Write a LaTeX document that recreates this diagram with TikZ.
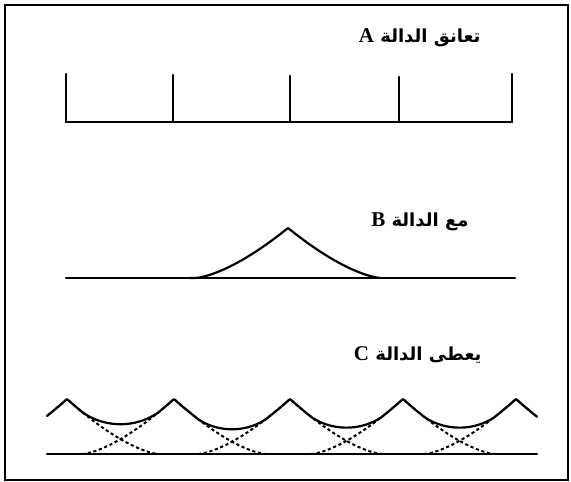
\documentclass[tikz,border=0pt]{standalone}
\usepackage{fontspec}
\usepackage{tikz}
\TeXXeTstate=1
\newfontfamily\arabicfont[Script=Arabic]{DejaVu Sans}
\newfontfamily\latinfont{Liberation Serif}
\newcommand{\fnlabel}[2]{{\arabicfont\bfseries\beginR #1 {\latinfont\bfseries\fontsize{21}{23}\selectfont #2}\endR}}

\begin{document}
\begin{tikzpicture}[x=1pt,y=-1pt,
  declare function={bs(\t,\w)=max(0,1-abs(\t)/\w);
                    bell(\t,\w,\h)=\h*bs(\t,\w)*sqrt(bs(\t,\w));},
  curve/.style={line width=2.2pt,line join=round,line cap=round},
  dotted curve/.style={line width=2pt,dash pattern=on 3.2pt off 2.6pt},
  label/.style={anchor=east,font=\fontsize{18}{21}\selectfont}]
\useasboundingbox (0,0) rectangle (571,482);
\draw[line width=2.2pt] (5,5) rectangle (568,480);
% function A
\coordinate (0) at (66,122);
\coordinate (1) at (173,122);
\coordinate (2) at (290,122);
\coordinate (3) at (399,122);
\coordinate (4) at (512,122);
\node[label] (5) at (484,38) {\fnlabel{تعانق الدالة}{A}};
\draw[curve] (0) -- (4);
\draw[curve] (0) -- ++(0,-48);
\draw[curve] (1) -- ++(0,-47);
\draw[curve] (2) -- ++(0,-46);
\draw[curve] (3) -- ++(0,-45);
\draw[curve] (4) -- ++(0,-48);
% function B
\coordinate (6) at (66,278);
\coordinate (7) at (515,278);
\node[label] (8) at (472,222) {\fnlabel{مع الدالة}{B}};
\draw[curve] (6) -- (7);
\draw[curve] plot[domain=190:380,samples=121] (\x,{278-bell(\x-288,93,50)});
% function C
\coordinate (9) at (47,454);
\coordinate (10) at (537,454);
\node[label] (11) at (485,355) {\fnlabel{يعطى الدالة}{C}};
\draw[curve] (9) -- (10);
\foreach \c in {67,174,290,403,516}
  \draw[dotted curve] plot[domain={max(47,\c-92)}:{min(537,\c+92)},samples=61]
    (\x,{454-bell(\x-\c,92,55)});
\draw[curve] plot[domain=47:537,samples=400]
  (\x,{454-bell(\x-67,92,55)-bell(\x-174,92,55)-bell(\x-290,92,55)-bell(\x-403,92,55)-bell(\x-516,92,55)});
\end{tikzpicture}
\end{document}
